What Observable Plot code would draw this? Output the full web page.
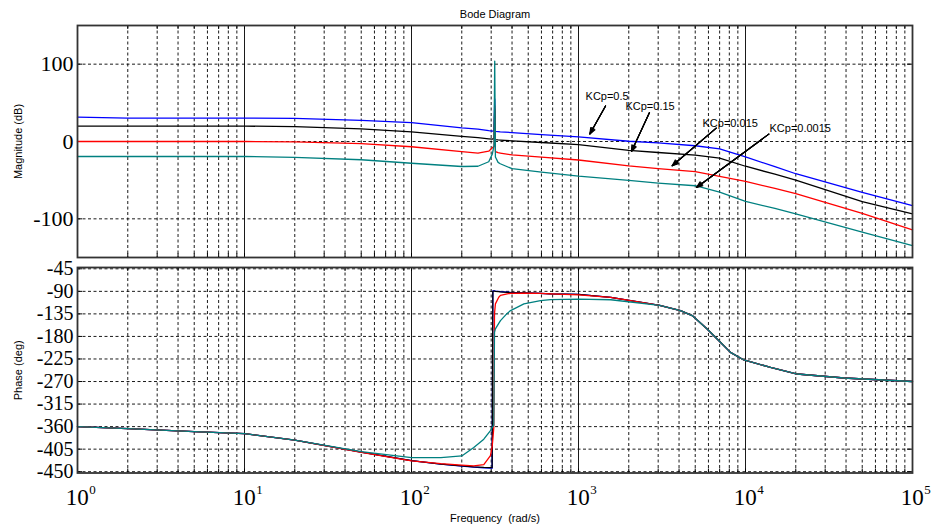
<!DOCTYPE html>
<html><head><meta charset="utf-8">
<script src="https://cdn.jsdelivr.net/npm/d3@7"></script>
<script src="https://cdn.jsdelivr.net/npm/@observablehq/plot@0.6"></script>
<style>body{margin:0;background:#fff} #chart svg{display:block}</style>
</head><body><div id="chart"></div>
<script>
// ---- data ----
const seriesNames = ["KCp=0.5", "KCp=0.15", "KCp=0.015", "KCp=0.0015"];
const seriesColors = ["#0000ff", "#000000", "#ff0000", "#008080"];

const magFreq  = [1,2,10,20,50,100,200,250,290,305,312,315,318,330,340,400,600,1000,2000,3000,5000,7000,10000,15000,20000,50000,100000];
const magBlue  = [31.5,30.3,30.2,29.9,27.4,24.5,17.7,16,14,13.5,14,55,13,12.8,12.5,11.5,9,6,0.3,-1.8,-5.5,-9.5,-20,-32.6,-41.7,-65.8,-83];
const magBlack = [19.9,19.9,19.9,19.2,16.4,12.5,6.7,5,3.5,3,4,42,2.5,2,1.8,0.8,-1.3,-4,-11.4,-14.2,-17.5,-21.5,-32,-42.3,-50,-77.8,-93.7];
const magRed   = [0,0,0,-0.4,-2.7,-6.8,-13,-15,-12.5,-8,-6,46,-13,-14.5,-15,-17.4,-20.2,-23.9,-31.6,-35,-39,-45,-51.7,-60.6,-67.5,-93,-114.3];
const magTeal  = [-19.4,-19.4,-19.4,-20.4,-23.6,-28.1,-32.3,-32,-26.2,-16,-5,104,-20,-27,-28.8,-35.2,-39.7,-44.9,-50.3,-53.7,-57.2,-65.5,-77.5,-86.5,-93.7,-117.3,-134.6];

const phaseFreq  = [1,2,5,10,20,50,100,150,200,236,271,297,304,307,311,314,318,333,341,374,392,471,592,680,1000,1560,3062,4081,4796,5894,6765,8128,9774,14125,20400,38800,100000];
const phaseBlue  = [-360,-364,-370,-374,-387,-411,-428,-435,-439,-441,-442.5,-443,-443,-89,-89,-89,-89.5,-90,-90.5,-91.5,-92,-93,-94,-95,-96,-102,-118,-128.4,-138.4,-165,-185,-211.8,-227,-241.8,-255,-263,-270];
const phaseBlack = [-360,-364,-370,-374,-387,-411,-428,-435,-438.5,-440.4,-441.5,-441.8,-442,-90,-89.7,-89.7,-90,-90.5,-91,-92,-92.5,-93,-94,-95,-96,-102,-118,-128.4,-138.4,-165,-185,-211.8,-227,-241.8,-255,-263,-270];
const phaseRed   = [-360,-364,-370,-374,-387,-411.5,-428.4,-434,-437,-438.5,-436,-418,-400,-385,-362,-135,-115,-101.8,-98,-95,-94,-93.5,-94,-95,-97,-102,-118,-128.4,-138.4,-165,-185,-211.8,-227,-241.8,-255,-263,-270];
const phaseTeal  = [-360,-364,-370,-374,-387,-410,-421.8,-421.8,-418.5,-401.8,-385,-368,-361.8,-360,-357,-172,-165,-154,-148.4,-134,-128.4,-115,-108.4,-106.6,-105.5,-106.8,-118,-128.4,-138.4,-165,-185,-211.8,-227,-241.8,-255,-263,-270];

const decadeExps = [0, 1, 2, 3, 4, 5];
const magTicks = [-100, 0, 100];
const phaseTicks = [-450, -405, -360, -315, -270, -225, -180, -135, -90, -45];

const annLabel  = ["KCp=0.5", "KCp=0.15", "KCp=0.015", "KCp=0.0015"];
const annTextF  = [1102, 1911, 5530, 13920];
const annTextDb = [58.3, 44.8, 23.5, 16.4];
const annFromF  = [1452, 2662, 6677, 13790];
const annFromDb = [46, 37.4, 17.3, 9.5];
const annToF    = [1169, 2076, 3640, 5090];
const annToDb   = [9.7, -12.9, -31.4, -59.4];

// ---- derived tables ----
const magSeries = [magBlue, magBlack, magRed, magTeal];
const phaseSeries = [phaseBlue, phaseBlack, phaseRed, phaseTeal];
const magRows = seriesNames.flatMap((s, i) => magFreq.map((f, j) => ({s, f, v: magSeries[i][j]})));
const phaseRows = seriesNames.flatMap((s, i) => phaseFreq.map((f, j) => ({s, f, v: phaseSeries[i][j]})));
const decades = decadeExps.map(e => 10 ** e);
const minor = decadeExps.slice(0, -1).flatMap(e => d3.range(2, 10).map(k => k * 10 ** e));
const allXTicks = minor.concat(decades);
const ann = annLabel.map((label, i) => ({label, tf: annTextF[i], tv: annTextDb[i],
  f1: annFromF[i], v1: annFromDb[i], f2: annToF[i], v2: annToDb[i]}));

const serif = "'Liberation Serif', 'Times New Roman', serif";
const sans = "'Liberation Sans', Arial, sans-serif";
const dots = "3,2.5";
const hyphen = d => String(d);
const W = 931, ML = 77, MR = 19;
const innerW = W - ML - MR;

function gridMarks(yTicks, innerH) {
  return [
    Plot.ruleX(minor, {stroke: "#000", strokeDasharray: dots, strokeWidth: 0.9}),
    Plot.ruleX(decades.slice(1, -1), {stroke: "#000", strokeWidth: 0.9}),
    Plot.ruleY(yTicks, {stroke: "#000", strokeDasharray: dots, strokeWidth: 0.9}),
    Plot.ruleX(allXTicks, {stroke: "#000", strokeWidth: 1, insetTop: innerH - 4}),
    Plot.ruleX(allXTicks, {stroke: "#000", strokeWidth: 1, insetBottom: innerH - 4}),
    Plot.ruleY(yTicks, {stroke: "#000", strokeWidth: 1, insetRight: innerW - 5}),
    Plot.ruleY(yTicks, {stroke: "#000", strokeWidth: 1, insetLeft: innerW - 5})
  ];
}

const topH = 262, topMT = 25, topMB = 5;
const topChart = Plot.plot({
  width: W, height: topH, marginLeft: ML, marginRight: MR, marginTop: topMT, marginBottom: topMB,
  style: {fontFamily: sans, fontSize: "11px", background: "white", overflow: "visible"},
  x: {type: "log", domain: [1, 1e5], axis: null},
  y: {domain: [-150, 150]},
  color: {domain: seriesNames, range: seriesColors},
  marks: [
    ...gridMarks(magTicks, topH - topMT - topMB),
    Plot.line(magRows, {x: "f", y: "v", z: "s", stroke: "s", strokeWidth: 1.3}),
    Plot.frame({stroke: "#333", strokeWidth: 1.8}),
    Plot.axisY(magTicks, {tickSize: 0, tickPadding: 4, tickFormat: hyphen, fontSize: 22, fontFamily: serif, label: null}),
    Plot.text(["Magnitude (dB)"], {text: d => d, frameAnchor: "left", textAnchor: "middle", lineAnchor: "middle", rotate: -90, dx: -59, fontSize: 11}),
    Plot.text(["Bode Diagram"], {text: d => d, frameAnchor: "top", textAnchor: "middle", lineAnchor: "middle", dy: -11, fontSize: 11}),
    ...[44, 30, 16, 6].map(a => Plot.arrow(ann, {x1: "f1", y1: "v1", x2: "f2", y2: "v2", stroke: "#000", strokeWidth: 1.1, headLength: 9, headAngle: a})),
    Plot.text(ann, {x: "tf", y: "tv", text: "label", textAnchor: "start", lineAnchor: "middle", fontSize: 11, fill: "#000"})
  ]
});

const botH = 267, botMT = 5, botMB = 56.5;
const botChart = Plot.plot({
  width: W, height: botH, marginLeft: ML, marginRight: MR, marginTop: botMT, marginBottom: botMB,
  style: {fontFamily: sans, fontSize: "11px", background: "white", overflow: "visible"},
  x: {type: "log", domain: [1, 1e5]},
  y: {domain: [-452.6, -42.4]},
  color: {domain: seriesNames, range: seriesColors},
  marks: [
    ...gridMarks(phaseTicks, botH - botMT - botMB),
    Plot.line(phaseRows, {x: "f", y: "v", z: "s", stroke: "s", strokeWidth: 1.3}),
    Plot.frame({stroke: "#333", strokeWidth: 1.8}),
    Plot.axisY(phaseTicks, {tickSize: 0, tickPadding: 4, tickFormat: hyphen, fontSize: 20, fontFamily: serif, label: null}),
    Plot.axisX(decades, {tickSize: 0, tickPadding: 16, tickFormat: () => "10", fontSize: 23, fontFamily: serif, textAnchor: "end", dx: 11.3, label: null}),
    Plot.text(decadeExps, {x: e => 10 ** e, text: e => String(e), frameAnchor: "bottom", lineAnchor: "bottom", textAnchor: "start", dx: 11.8, dy: 20.5, fontSize: 13, fontFamily: serif}),
    Plot.text(["Frequency  (rad/s)"], {text: d => d, frameAnchor: "bottom", textAnchor: "middle", lineAnchor: "middle", dy: 45.5, fontSize: 11}),
    Plot.text(["Phase (deg)"], {text: d => d, frameAnchor: "left", textAnchor: "middle", lineAnchor: "middle", rotate: -90, dx: -59, fontSize: 11})
  ]
});

const root = document.getElementById("chart");
root.appendChild(topChart);
root.appendChild(botChart);
</script>
</body></html>
